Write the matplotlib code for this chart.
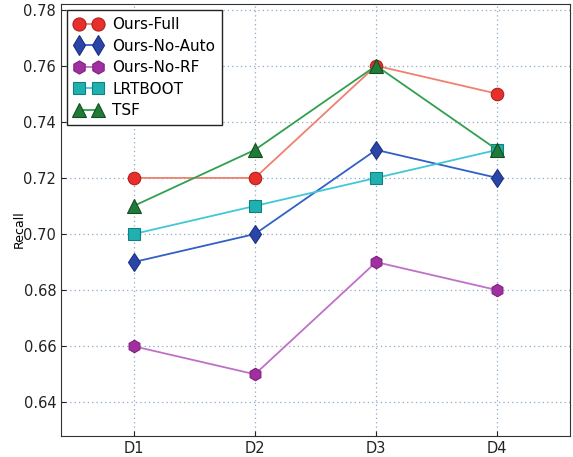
import matplotlib
matplotlib.use("Agg")
import matplotlib.pyplot as plt

categories = ["D1", "D2", "D3", "D4"]
ours_full = [0.72, 0.72, 0.76, 0.75]
ours_no_auto = [0.69, 0.70, 0.73, 0.72]
ours_no_rf = [0.66, 0.65, 0.69, 0.68]
lrtboot = [0.70, 0.71, 0.72, 0.73]
tsf = [0.71, 0.73, 0.76, 0.73]
yticks = [0.64, 0.66, 0.68, 0.70, 0.72, 0.74, 0.76, 0.78]

fig = plt.figure(figsize=(5.73, 4.57), dpi=100)
ax = fig.add_axes([61/573, 21/457, (570-61)/573, (436-4)/457])
x = [1, 2, 3, 4]

series = [
    ("Ours-Full", ours_full, "o", "#f08070", "#e8302a", "#b02020", 9),
    ("Ours-No-Auto", ours_no_auto, "d", "#3060c8", "#2a44a8", "#1a3080", 9.5),
    ("Ours-No-RF", ours_no_rf, "h", "#c070c8", "#a030a0", "#802080", 9),
    ("LRTBOOT", lrtboot, "s", "#40c8d8", "#20b0b0", "#108080", 8.5),
    ("TSF", tsf, "^", "#30a050", "#207a3a", "#105020", 9.5),
]
for label, vals, mk, lc, fc, ec, ms in series:
    ax.plot(x, vals, marker=mk, color=lc, markerfacecolor=fc, markeredgecolor=ec,
            markersize=ms, linewidth=1.3, label=label, markeredgewidth=0.8)

ax.set_xlim(0.4, 4.6)
ax.set_ylim(0.628, 0.782)
ax.set_xticks(x)
ax.set_xticklabels(categories)
ax.set_yticks(yticks)
ax.set_yticklabels([f"{v:.2f}" for v in yticks])
ax.tick_params(direction="in", labelsize=10.5, colors="#222222")
for s in ax.spines.values():
    s.set_color("#333333")
ax.grid(True, linestyle=(0, (1, 2.5)), color="#8aaac8", linewidth=0.9)
ax.set_ylabel("Recall", fontsize=9)
ax.yaxis.set_label_coords(-0.07, 0.48)
leg = ax.legend(loc="upper left", fontsize=11, fancybox=False, framealpha=1,
                edgecolor="#222222", numpoints=2, handlelength=1.9, borderpad=0.45,
                labelspacing=0.42, markerscale=1.05, handletextpad=0.6,
                borderaxespad=0.0, bbox_to_anchor=(0.012, 0.985))
leg.get_frame().set_linewidth(1.0)
fig.savefig("out.png", dpi=100)
